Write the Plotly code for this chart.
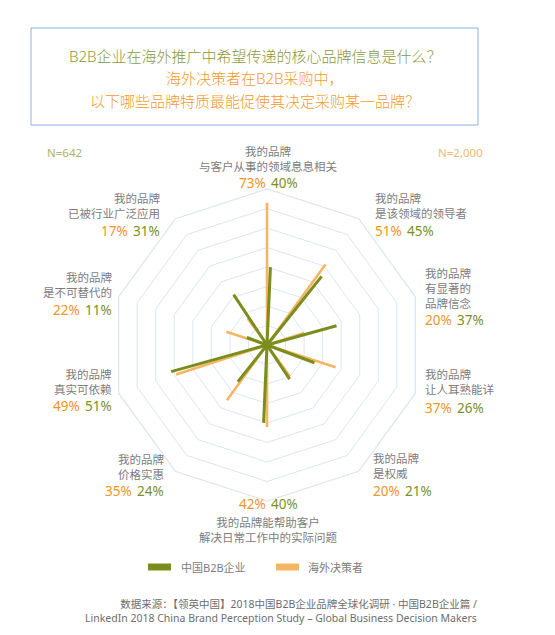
import plotly.graph_objects as go

W, H = 555, 635

# ── DATOS ──────────────────────────────────────────────
labels = [
    "我的品牌<br>与客户从事的领域息息相关",
    "我的品牌<br>是该领域的领导者",
    "我的品牌<br>有显著的<br>品牌信念",
    "我的品牌<br>让人耳熟能详",
    "我的品牌<br>是权威",
    "我的品牌能帮助客户<br>解决日常工作中的实际问题",
    "我的品牌<br>价格实惠",
    "我的品牌<br>真实可依赖",
    "我的品牌<br>是不可替代的",
    "我的品牌<br>已被行业广泛应用",
]
overseas = [73, 51, 20, 37, 20, 42, 35, 49, 22, 17]   # 海外决策者
china = [40, 45, 37, 26, 21, 40, 24, 51, 11, 31]      # 中国B2B企业
series_names = ["中国B2B企业", "海外决策者"]
n_text = ["N=642", "N=2,000"]

categories = [l.replace("<br>", "") for l in labels]

# ── ESTILO ─────────────────────────────────────────────
GREEN = "#7b8d1e"
ORANGE = "#f5b562"
GREEN_T = "#7e8f24"
ORANGE_T = "#f29422"
GRAY = "#7d7d7d"
GRID = "#dde5f0"
FONT = "Noto Sans, Noto Sans CJK SC, sans-serif"


def px(x, y):
    return x / W, 1 - y / H


def spokes(vals):
    r, th = [], []
    for c, v in zip(categories, vals):
        r += [0, v, None]
        th += [c, c, None]
    return r, th


fig = go.Figure()

r_o, th_o = spokes(overseas)
fig.add_trace(go.Scatterpolar(r=r_o, theta=th_o, mode="lines", subplot="polar",
                              line=dict(color=ORANGE, width=2.6),
                              name=series_names[1], showlegend=False))
r_c, th_c = spokes(china)
fig.add_trace(go.Scatterpolar(r=r_c, theta=th_c, mode="lines", subplot="polar2",
                              line=dict(color=GREEN, width=3),
                              name=series_names[0], showlegend=False))

# area polar: centro (259, 337), radio 156 px
dom_x = [103 / W, 415 / W]
dom_y = [1 - 493 / H, 1 - 181 / H]

common_radial = dict(range=[0, 80], dtick=10, showticklabels=False, ticks="",
                     showline=False)
fig.update_layout(
    polar=dict(
        domain=dict(x=dom_x, y=dom_y),
        bgcolor="rgba(0,0,0,0)",
        gridshape="linear",
        radialaxis=dict(**common_radial, showgrid=True, gridcolor=GRID, gridwidth=1.2),
        angularaxis=dict(type="category", categoryarray=categories, rotation=90,
                         direction="clockwise", showticklabels=False, ticks="",
                         showgrid=False, showline=True, linecolor=GRID, linewidth=1.2),
    ),
    polar2=dict(
        domain=dict(x=dom_x, y=dom_y),
        bgcolor="rgba(0,0,0,0)",
        gridshape="linear",
        radialaxis=dict(**common_radial, showgrid=False),
        angularaxis=dict(type="category", categoryarray=categories, rotation=87.5,
                         direction="clockwise", showticklabels=False, ticks="",
                         showgrid=False, showline=False),
    ),
)

annotations = []


def note(txt, x, y, size, color, xa="center", ya="middle", align="center", weight=None):
    x0, y0 = px(x, y)
    f = dict(family=FONT, size=size, color=color)
    if weight:
        f["weight"] = weight
    annotations.append(dict(text=txt, x=x0, y=y0, xref="paper", yref="paper",
                            xanchor=xa, yanchor=ya, align=align, showarrow=False,
                            borderpad=0, font=f))


# titulo
note("B2B企业在海外推广中希望传递的核心品牌信息是什么？", 247, 48, 15, "#8a9a3a", weight=300)
note("海外决策者在B2B采购中，", 247, 70, 15, "#f39a2b", weight=300)
note("以下哪些品牌特质最能促使其决定采购某一品牌？", 247, 93, 15, "#f39a2b", weight=300)

# N
note(n_text[0], 38, 144, 11.5, "#a9b36b", xa="left")
note(n_text[1], 429, 144, 11.5, "#f5b870", xa="left")

# etiquetas de los ejes: (x, y texto, y porcentaje, lado)
label_pos = [
    (260, 151, 174.5, "c"),
    (366, 198, 223, "l"),
    (416, 280, 312, "l"),
    (416, 374, 399.5, "l"),
    (364, 458, 482.5, "l"),
    (260, 521.5, 495.5, "c"),
    (157, 458.5, 482.5, "r"),
    (105, 373.5, 398, "r"),
    (105, 276.5, 301.5, "r"),
    (153, 197.5, 223, "r"),
]
for lab, o, c, (x, yl, yp, side) in zip(labels, overseas, china, label_pos):
    if side == "l":
        note(lab, x, yl, 11.5, GRAY, xa="left", align="left")
        note(f"{o}%", x, yp, 13.5, ORANGE_T, xa="left")
        note(f"{c}%", x + 32, yp, 13.5, GREEN_T, xa="left")
    elif side == "r":
        note(lab, x, yl, 11.5, GRAY, xa="right", align="right")
        note(f"{o}%", x - 32, yp, 13.5, ORANGE_T, xa="right")
        note(f"{c}%", x, yp, 13.5, GREEN_T, xa="right")
    else:
        note(lab, x, yl, 11.5, GRAY)
        note(f"{o}%", x - 16, yp, 13.5, ORANGE_T)
        note(f"{c}%", x + 16, yp, 13.5, GREEN_T)

# leyenda
note(series_names[0], 172, 559, 11, GRAY, xa="left")
note(series_names[1], 299, 559, 11, GRAY, xa="left")

# fuente
note("数据来源：【领英中国】2018中国B2B企业品牌全球化调研 · 中国B2B企业篇 /<br>"
     "LinkedIn 2018 China Brand Perception Study – Global Business Decision Makers",
     470, 603, 10.5, "#6e6e6e", xa="right", align="right")

shapes = []
# caja del titulo
bx0, by0 = px(23, 20)
bx1, by1 = px(470, 117)
shapes.append(dict(type="rect", xref="paper", yref="paper", x0=bx0, y0=by1, x1=bx1, y1=by0,
                   line=dict(color="#8db3e2", width=1), fillcolor="rgba(0,0,0,0)"))
# muestras de leyenda
for x, col in [(140, GREEN), (268, ORANGE)]:
    sx0, sy0 = px(x, 555.5)
    sx1, sy1 = px(x + 23, 562.5)
    shapes.append(dict(type="rect", xref="paper", yref="paper", x0=sx0, y0=sy1, x1=sx1, y1=sy0,
                       line=dict(width=0), fillcolor=col))
# borde azul inferior
ux0, uy0 = px(413, 632)
ux1, uy1 = px(460, 636)
shapes.append(dict(type="rect", xref="paper", yref="paper", x0=ux0, y0=uy1, x1=ux1, y1=uy0,
                   line=dict(width=0), fillcolor="#4a86b0"))

fig.update_layout(
    width=W, height=H,
    margin=dict(l=0, r=0, t=0, b=0),
    paper_bgcolor="white",
    plot_bgcolor="white",
    showlegend=False,
    annotations=annotations,
    shapes=shapes,
    font=dict(family=FONT),
)

fig.write_html("out.html")
